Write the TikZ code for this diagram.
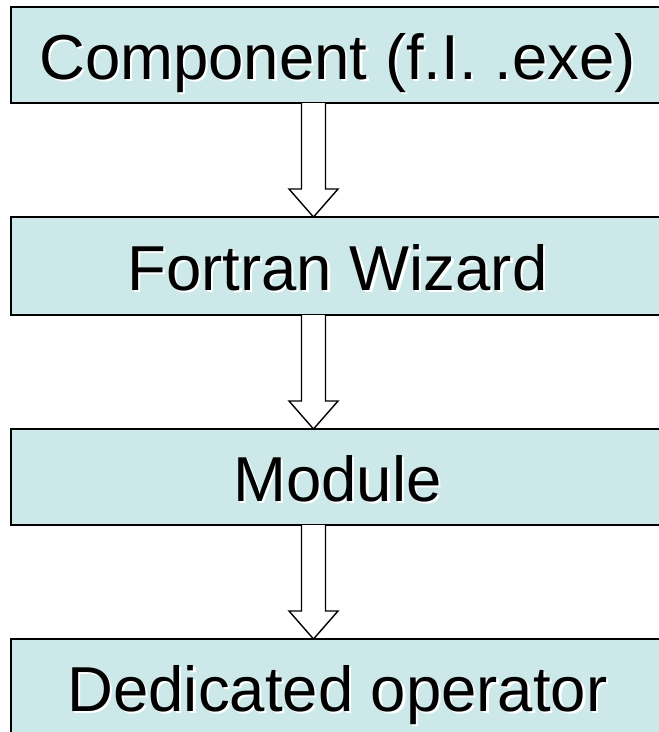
\documentclass[tikz,border=0pt]{standalone}
\usepackage{fontspec}
\setmainfont{Liberation Sans}
\usetikzlibrary{calc}
\definecolor{boxfill}{RGB}{204,232,232}
\newcommand\shtext[1]{\makebox[0pt][l]{\hspace{2.2pt}\raisebox{-2.2pt}{\color{white}#1}}#1}
\tikzset{
  flowbox/.style={draw=black, line width=2pt, fill=boxfill, rectangle, outer sep=0pt, inner sep=0pt,
    minimum width=653pt, text height=49pt, text depth=0pt,
    font=\fontsize{63.5}{70}\selectfont, text=black},
  blockarrow/.style={draw=black, line width=1.4pt, fill=white, line join=miter}
}
\begin{document}
\begin{tikzpicture}[x=1pt,y=1pt]
\useasboundingbox (0,0) rectangle (659,-732);
\fill[white] (0,0) rectangle (659,-732);
\node[flowbox, minimum height=96pt] (c) at (337.5,-55) {\shtext{Component (f.I. .exe)}};
\node[flowbox, minimum height=98pt] (f) at (337.5,-266) {\shtext{Fortran Wizard}};
\node[flowbox, minimum height=96pt] (m) at (337.5,-477) {\shtext{Module}};
\node[flowbox, minimum height=96pt] (d) at (337.5,-687) {\shtext{Dedicated operator}};
\coordinate (ax) at (313.5,0);
\foreach \a/\b in {c/f, f/m, m/d} {
  \draw[blockarrow]
    ($(\a.south -| ax)+(-12,0)$) -- ($(\b.north -| ax)+(-12,28)$) -- ($(\b.north -| ax)+(-24.5,28)$)
    -- (\b.north -| ax) -- ($(\b.north -| ax)+(24.5,28)$) -- ($(\b.north -| ax)+(12,28)$)
    -- ($(\a.south -| ax)+(12,0)$);
}
\end{tikzpicture}
\end{document}
